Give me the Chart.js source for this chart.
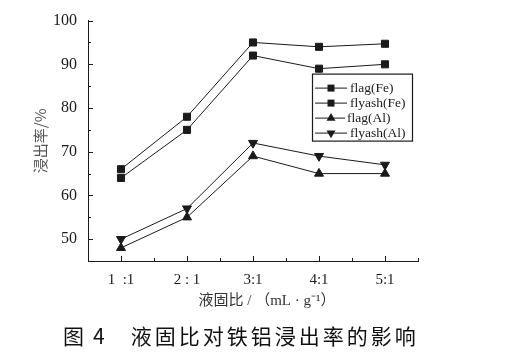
<!DOCTYPE html>
<html>
<head>
<meta charset="utf-8">
<script src="https://cdn.jsdelivr.net/npm/chart.js@4.4.0/dist/chart.umd.min.js"></script>
<style>
  html, body { margin: 0; padding: 0; background: #fff; }
  #wrap { position: relative; width: 522px; height: 354px; }
  #caption { position: absolute; left: 63px; top: 322px; font-family: "Noto Sans CJK SC"; font-size: 21px; line-height: 26px; color: #111; letter-spacing: 3px; white-space: pre; }
</style>
</head>
<body>
<div id="wrap">
  <canvas id="chart" width="522" height="354"></canvas>
  <div id="caption"><span>图</span><span style="margin-left:6px">4</span><span style="margin-left:23px">液固比对铁铝浸出率的影响</span></div>
</div>
<script>
// values (leaching rate, %)
const RATIOS = ["1  :1", "2 : 1", "3:1", "4:1", "5:1"];
const FLAG_FE = [66, 78, 95, 94, 94.7];
const FLYASH_FE = [64, 75, 92, 89, 90];
const FLAG_AL = [48, 55, 69, 65, 65];
const FLYASH_AL = [50, 57, 72, 69, 67];
const Y_TICKS = [50, 60, 70, 80, 90, 100];
const Y_MINOR = [55, 65, 75, 85, 95];
const X_MINOR = [1.5, 2.5, 3.5, 4.5, 5.5];

const SERIF = '"Liberation Serif", "Times New Roman", serif';
const INK = '#1a1a1a';

function toPoints(values) {
  return values.map((v, i) => ({ x: i + 1, y: v }));
}

function series(label, values, style, rotation) {
  return {
    label: label,
    data: toPoints(values),
    borderColor: INK,
    backgroundColor: INK,
    borderWidth: 1,
    pointStyle: style,
    rotation: rotation,
    pointRadius: style === 'rect' ? 5 : 5.2,
    pointBorderWidth: 1,
    tension: 0
  };
}

// little marker drawer for the legend (same shapes as the chart points)
function marker(ctx, style, rotation, x, y) {
  ctx.beginPath();
  if (style === 'rect') {
    ctx.rect(x - 3.5, y - 3.5, 7, 7);
  } else {
    const r = 5.2;
    const dir = rotation === 180 ? -1 : 1;
    ctx.moveTo(x, y - dir * r);
    ctx.lineTo(x + r * 0.866, y + dir * r * 0.5);
    ctx.lineTo(x - r * 0.866, y + dir * r * 0.5);
    ctx.closePath();
  }
  ctx.fill();
}

// ticks in the figure point inwards, with minor ones between, so draw them here
const inwardTicks = {
  id: 'inwardTicks',
  afterDatasetsDraw(chart) {
    const { ctx, chartArea, scales: { x, y } } = chart;
    ctx.save();
    ctx.strokeStyle = INK;
    ctx.lineWidth = 1;
    ctx.beginPath();
    [1, 2, 3, 4, 5].forEach(v => {
      const px = Math.round(x.getPixelForValue(v)) + 0.5;
      ctx.moveTo(px, chartArea.bottom); ctx.lineTo(px, chartArea.bottom - 5);
    });
    X_MINOR.forEach(v => {
      const px = Math.round(x.getPixelForValue(v)) + 0.5;
      ctx.moveTo(px, chartArea.bottom); ctx.lineTo(px, chartArea.bottom - 3);
    });
    Y_TICKS.forEach(v => {
      const py = Math.round(y.getPixelForValue(v)) + 0.5;
      ctx.moveTo(chartArea.left, py); ctx.lineTo(chartArea.left + 5, py);
    });
    Y_MINOR.forEach(v => {
      const py = Math.round(y.getPixelForValue(v)) + 0.5;
      ctx.moveTo(chartArea.left, py); ctx.lineTo(chartArea.left + 3, py);
    });
    ctx.stroke();
    ctx.restore();
  }
};

// boxed legend inside the plot, line sample with marker like the original
const boxLegend = {
  id: 'boxLegend',
  afterDraw(chart) {
    const { ctx, chartArea } = chart;
    const left = chartArea.right - 106, top = chartArea.top + 53;
    const w = 100, h = 67;
    ctx.save();
    ctx.fillStyle = '#fff';
    ctx.fillRect(left, top, w, h);
    ctx.strokeStyle = INK;
    ctx.lineWidth = 1.2;
    ctx.strokeRect(left + 0.5, top + 0.5, w, h);
    ctx.font = '13.5px ' + SERIF;
    ctx.textBaseline = 'middle';
    chart.data.datasets.forEach((ds, i) => {
      const ry = top + 14 + i * 15;
      const upTri = ds.pointStyle === 'triangle' && ds.rotation !== 180;
      ctx.strokeStyle = INK;
      ctx.lineWidth = 1;
      ctx.beginPath();
      ctx.moveTo(left + 3, ry + 0.5);
      ctx.lineTo(left + (upTri ? 33 : 35), ry + 0.5);
      ctx.stroke();
      ctx.fillStyle = INK;
      marker(ctx, ds.pointStyle, ds.rotation, left + 19, ry + 0.5);
      ctx.fillText(ds.label, left + (upTri ? 35 : 38), ry + 1);
    });
    ctx.restore();
  }
};

// x axis title, sits a bit right of centre in the original
const xTitle = {
  id: 'xTitle',
  afterDraw(chart) {
    const { ctx, chartArea } = chart;
    ctx.save();
    ctx.fillStyle = '#333';
    ctx.textAlign = 'center';
    ctx.textBaseline = 'middle';
    ctx.font = '15px ' + SERIF + ', "Noto Sans CJK SC"';
    ctx.fillText('液固比 / （mL · g⁻¹）', (chartArea.left + chartArea.right) / 2 + 14, chartArea.bottom + 40);
    ctx.restore();
  }
};

const ctx = document.getElementById('chart');
new Chart(ctx, {
  type: 'line',
  data: {
    datasets: [
      series('flag(Fe)', FLAG_FE, 'rect', 0),
      series('flyash(Fe)', FLYASH_FE, 'rect', 0),
      series('flag(Al)', FLAG_AL, 'triangle', 0),
      series('flyash(Al)', FLYASH_AL, 'triangle', 180)
    ]
  },
  options: {
    responsive: false,
    animation: false,
    devicePixelRatio: 1,
    layout: { padding: { left: 0, top: 17, right: 104, bottom: 43 } },
    plugins: { legend: { display: false }, tooltip: { enabled: false } },
    scales: {
      x: {
        type: 'linear',
        min: 0.5,
        max: 5.5,
        afterBuildTicks: (scale) => { scale.ticks = [1, 2, 3, 4, 5].map(v => ({ value: v })); },
        afterFit: (scale) => { scale.height = 50; },
        grid: { drawOnChartArea: false, drawTicks: false },
        border: { display: true, color: INK, width: 1 },
        ticks: {
          padding: 10,
          color: INK,
          font: { family: SERIF, size: 15 },
          maxRotation: 0,
          callback: (v) => RATIOS[v - 1]
        }
      },
      y: {
        min: 45,
        max: 100,
        afterBuildTicks: (scale) => { scale.ticks = Y_TICKS.map(v => ({ value: v })); },
        afterFit: (scale) => { scale.width = 88; },
        grid: { drawOnChartArea: false, drawTicks: false },
        border: { display: true, color: INK, width: 1 },
        ticks: {
          padding: 11,
          color: INK,
          font: { family: SERIF, size: 16 }
        },
        title: {
          display: true,
          text: '浸出率/%',
          color: '#555',
          font: { family: '"Noto Sans CJK SC"', size: 15 },
          padding: { top: 31, bottom: 0 }
        }
      }
    }
  },
  plugins: [inwardTicks, boxLegend, xTitle]
});
</script>
</body>
</html>
